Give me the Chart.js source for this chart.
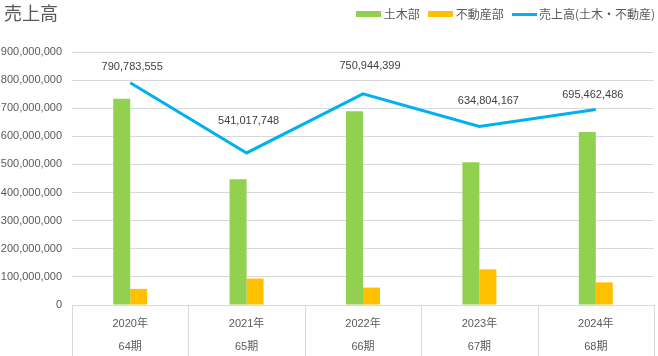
<!DOCTYPE html>
<html><head><meta charset="utf-8">
<script src="https://cdn.jsdelivr.net/npm/chart.js@4"></script>
<style>
html,body{margin:0;padding:0;background:#fff;}
#wrap{position:relative;width:658px;height:356px;overflow:hidden;}
#title{position:absolute;left:4px;top:0px;font-size:18px;font-family:"Noto Sans CJK JP",sans-serif;color:#595959;line-height:24px;}
#legend{position:absolute;right:3px;top:5px;display:flex;align-items:center;font-size:12px;font-family:"Noto Sans CJK JP",sans-serif;color:#595959;line-height:18px;white-space:nowrap;}
#legend .it{display:flex;align-items:center;margin-left:8px;}
#legend .sw{width:25px;height:6px;margin-right:3px;}
#legend .ln{width:25px;height:3px;margin-right:2px;}
canvas{position:absolute;left:0;top:0;}
</style></head>
<body>
<div id="wrap">
<canvas id="c" width="658" height="356"></canvas>
<div id="title">売上高</div>
<div id="legend"></div>
</div>
<script>
const categories = [["2020年","64期"],["2021年","65期"],["2022年","66期"],["2023年","67期"],["2024年","68期"]];
const civilValues = [733500000, 447000000, 689000000, 508000000, 615000000];
const realEstateValues = [57283555, 94017748, 61944399, 126804167, 80462486];
const totalValues = [790783555, 541017748, 750944399, 634804167, 695462486];
const seriesNames = ["土木部", "不動産部", "売上高(土木・不動産)"];
const yTickMax = 900000000;
const yTickStep = 100000000;

const colors = ["#92d050", "#ffc000", "#00b0f0"];
const labelLift = [16, 32, 28, 26, 15];
const labelShift = [2, 2, 7, 9, -3];

// HTML legend
const lg = document.getElementById('legend');
seriesNames.forEach((n, i) => {
  const it = document.createElement('div'); it.className = 'it';
  const sw = document.createElement('div'); sw.className = i < 2 ? 'sw' : 'ln';
  sw.style.background = colors[i];
  const t = document.createElement('span'); t.textContent = n;
  it.appendChild(sw); it.appendChild(t); lg.appendChild(it);
});

const numFont = "'Liberation Sans', 'Noto Sans CJK JP', sans-serif";

const sepPlugin = {
  id: 'sep',
  afterDraw(chart) {
    const xs = chart.scales.x, ca = chart.chartArea, ctx = chart.ctx;
    const n = categories.length;
    ctx.save();
    ctx.strokeStyle = '#d9d9d9'; ctx.lineWidth = 1;
    for (let i = 0; i <= n; i++) {
      let x;
      if (i === 0) x = ca.left;
      else if (i === n) x = ca.right;
      else x = (xs.getPixelForValue(i - 1) + xs.getPixelForValue(i)) / 2;
      x = Math.round(x) + 0.5;
      ctx.beginPath(); ctx.moveTo(x, ca.bottom); ctx.lineTo(x, chart.height); ctx.stroke();
    }
    ctx.restore();
  }
};

const labelPlugin = {
  id: 'vlabels',
  afterDatasetsDraw(chart) {
    const meta = chart.getDatasetMeta(2);
    const ctx = chart.ctx;
    ctx.save();
    ctx.font = "11px " + numFont;
    ctx.fillStyle = '#404040';
    ctx.textAlign = 'center';
    ctx.textBaseline = 'middle';
    meta.data.forEach((pt, i) => {
      ctx.fillText(totalValues[i].toLocaleString('en-US'), pt.x + labelShift[i], pt.y - labelLift[i]);
    });
    ctx.restore();
  }
};

new Chart(document.getElementById('c'), {
  data: {
    labels: categories,
    datasets: [
      { type: 'bar', label: seriesNames[0], data: civilValues, backgroundColor: colors[0], order: 2, categoryPercentage: 0.292, barPercentage: 1 },
      { type: 'bar', label: seriesNames[1], data: realEstateValues, backgroundColor: colors[1], order: 2, categoryPercentage: 0.292, barPercentage: 1 },
      { type: 'line', label: seriesNames[2], data: totalValues, borderColor: colors[2], backgroundColor: colors[2], borderWidth: 3, pointRadius: 0, tension: 0, order: 0 }
    ]
  },
  options: {
    responsive: false,
    animation: false,
    events: [],
    layout: { padding: { top: 52, right: 4, left: 0, bottom: 0 } },
    plugins: { legend: { display: false }, title: { display: false }, tooltip: { enabled: false } },
    scales: {
      x: {
        grid: { display: false },
        border: { display: true, color: '#d9d9d9' },
        ticks: { color: '#595959', font: { family: numFont, size: 11, lineHeight: '23px' }, padding: -1, maxRotation: 0, autoSkip: false },
        afterFit(s) { s.height = 51; }
      },
      y: {
        min: 0, max: yTickMax,
        grid: { color: '#d9d9d9', drawTicks: false },
        border: { display: false },
        ticks: { stepSize: yTickStep, color: '#595959', font: { family: numFont, size: 11 }, padding: 10,
          callback: v => v.toLocaleString('en-US') },
        afterFit(s) { s.width = 72; }
      }
    }
  },
  plugins: [sepPlugin, labelPlugin]
});
</script>
</body></html>
